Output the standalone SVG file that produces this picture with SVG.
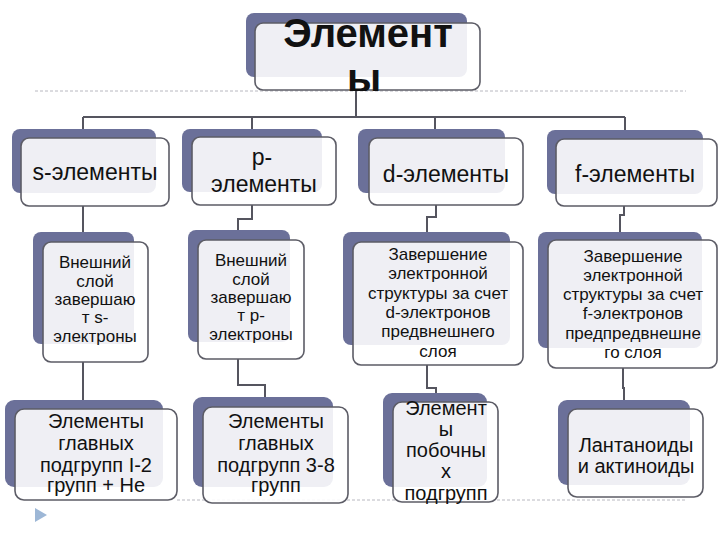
<svg xmlns="http://www.w3.org/2000/svg" width="720" height="540" viewBox="0 0 720 540">
<defs>
<style>
.bk{fill:#6B7099;}
.fr{fill:#fff;fill-opacity:0.89;stroke:#5c5c66;stroke-width:1.6;}
.t{font-family:"Liberation Sans",Arial,sans-serif;fill:#111;text-anchor:middle;}
.t1{font-size:23px;}
.t2{font-size:17px;}
.t3{font-size:20px;}
.cn{fill:none;stroke:#55555f;stroke-width:2;}
.dash{stroke:#b8b8c0;stroke-width:1;stroke-dasharray:3 2;fill:none;}
</style>
<clipPath id="clipTitle"><rect x="250" y="10" width="240" height="81"/></clipPath>
</defs>
<rect width="720" height="540" fill="#fff"/>
<path class="dash" d="M35 91H686"/>
<path class="dash" d="M177 500H686"/>
<path d="M35 508L47 515L35 522Z" fill="#9DB7D6"/>
<g id="connectors">
<path class="cn" d="M356 90V117M83 117H625M83 117V129M252 117V129M435 117V129M625 117V130"/>
<path class="cn" d="M83 206V232M83 362V400"/>
<path class="cn" d="M252 205V219H238V230M238 359V385H265V397"/>
<path class="cn" d="M436 205V217H427V232M427 365V388H436V393"/>
<path class="cn" d="M624 206V215H620V232M623 368V388H624V400"/>
</g>
<g id="title">
<rect class="bk" x="246" y="13" width="221" height="64" rx="8"/>
<rect class="fr" x="255" y="23" width="225" height="67" rx="8"/>
<text class="t" x="368" y="47" font-size="40" font-weight="bold">Элемент</text>
<text class="t" x="364" y="92" font-size="40" font-weight="bold" clip-path="url(#clipTitle)">ы</text>
</g>
<g id="s1">
<rect class="bk" x="12" y="129" width="144" height="64" rx="8"/>
<rect class="fr" x="21" y="138" width="148" height="68" rx="8"/>
<text class="t t1" x="95" y="180">s-элементы</text>
</g>
<g id="p1">
<rect class="bk" x="182" y="129" width="140" height="63" rx="8"/>
<rect class="fr" x="192" y="137" width="144" height="68" rx="8"/>
<text class="t t1" x="262" y="165">р-</text>
<text class="t t1" x="264" y="192">элементы</text>
</g>
<g id="d1">
<rect class="bk" x="358" y="129" width="147" height="64" rx="8"/>
<rect class="fr" x="369" y="138" width="154" height="67" rx="8"/>
<text class="t t1" x="446" y="182">d-элементы</text>
</g>
<g id="f1">
<rect class="bk" x="547" y="130" width="156" height="64" rx="8"/>
<rect class="fr" x="556" y="139" width="161" height="67" rx="8"/>
<text class="t t1" x="635" y="182">f-элементы</text>
</g>
<g id="s2">
<rect class="bk" x="33" y="232" width="101" height="112" rx="8"/>
<rect class="fr" x="43" y="242" width="105" height="120" rx="8"/>
<text class="t t2" x="95"><tspan x="95" y="268">Внешний</tspan><tspan x="95" y="287">слой</tspan><tspan x="95" y="305">завершаю</tspan><tspan x="95" y="323">т s-</tspan><tspan x="95" y="342">электроны</tspan></text>
</g>
<g id="p2">
<rect class="bk" x="188" y="230" width="102" height="112" rx="8"/>
<rect class="fr" x="198" y="240" width="106" height="119" rx="8"/>
<text class="t t2" x="251"><tspan x="251" y="266">Внешний</tspan><tspan x="251" y="285">слой</tspan><tspan x="251" y="303">завершаю</tspan><tspan x="251" y="321">т р-</tspan><tspan x="251" y="340">электроны</tspan></text>
</g>
<g id="d2">
<rect class="bk" x="343" y="232" width="167" height="113" rx="8"/>
<rect class="fr" x="353" y="242" width="170" height="123" rx="8"/>
<text class="t t2" x="438"><tspan x="438" y="260">Завершение</tspan><tspan x="438" y="279">электронной</tspan><tspan x="438" y="299">структуры за счет</tspan><tspan x="438" y="318">d-электронов</tspan><tspan x="438" y="337">предвнешнего</tspan><tspan x="438" y="357">слоя</tspan></text>
</g>
<g id="f2">
<rect class="bk" x="538" y="232" width="164" height="116" rx="8"/>
<rect class="fr" x="548" y="240" width="169" height="128" rx="8"/>
<text class="t t2" x="633"><tspan x="633" y="262">Завершение</tspan><tspan x="633" y="281">электронной</tspan><tspan x="633" y="300">структуры за счет</tspan><tspan x="633" y="319">f-электронов</tspan><tspan x="633" y="339">предпредвнешне</tspan><tspan x="633" y="358">го слоя</tspan></text>
</g>
<g id="s3">
<rect class="bk" x="5" y="400" width="158" height="87" rx="9"/>
<rect class="fr" x="15" y="409" width="162" height="91" rx="9"/>
<text class="t t3" x="96"><tspan x="96" y="428">Элементы</tspan><tspan x="96" y="450">главных</tspan><tspan x="96" y="472">подгрупп I-2</tspan><tspan x="96" y="492">групп + Не</tspan></text>
</g>
<g id="p3">
<rect class="bk" x="193" y="397" width="140" height="90" rx="9"/>
<rect class="fr" x="203" y="407" width="145" height="96" rx="9"/>
<text class="t t3" x="276"><tspan x="276" y="428">Элементы</tspan><tspan x="276" y="450">главных</tspan><tspan x="276" y="472">подгрупп 3-8</tspan><tspan x="276" y="492">групп</tspan></text>
</g>
<g id="d3">
<rect class="bk" x="383" y="393" width="104" height="94" rx="9"/>
<rect class="fr" x="393" y="402" width="105" height="100" rx="9"/>
<text class="t t3" x="446"><tspan x="446" y="415">Элемент</tspan><tspan x="446" y="436">ы</tspan><tspan x="446" y="457">побочны</tspan><tspan x="446" y="478">х</tspan><tspan x="446" y="500">подгрупп</tspan></text>
</g>
<g id="f3">
<rect class="bk" x="558" y="400" width="132" height="85" rx="9"/>
<rect class="fr" x="568" y="409" width="135" height="88" rx="9"/>
<text class="t t3" x="636"><tspan x="636" y="452">Лантаноиды</tspan><tspan x="636" y="473">и актиноиды</tspan></text>
</g>
</svg>
